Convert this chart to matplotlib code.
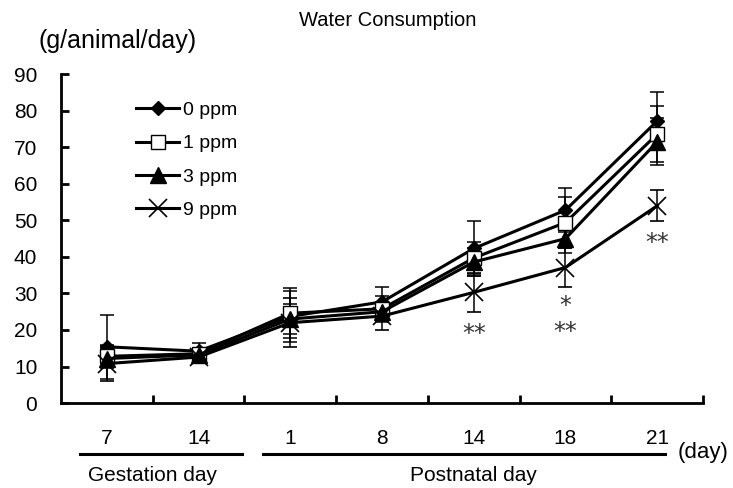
import matplotlib
matplotlib.use("Agg")
from matplotlib import pyplot as plt
from matplotlib.lines import Line2D
import numpy as np

plt.rcParams["font.family"] = ["Liberation Sans", "DejaVu Sans"]

days = ["7", "14", "1", "8", "14", "18", "21"]
groups = ["0 ppm", "1 ppm", "3 ppm", "9 ppm"]

mean_0 = [15.4, 14.2, 23.7, 27.7, 42.3, 52.8, 77.2]
mean_1 = [12.8, 13.5, 24.6, 25.8, 39.7, 49.4, 73.6]
mean_3 = [12.2, 13.2, 23.0, 25.0, 38.6, 45.0, 71.5]
mean_9 = [10.8, 12.6, 22.0, 23.8, 30.3, 37.1, 54.0]

sd_0 = [8.7, 2.3, 7.0, 4.1, 7.5, 6.1, 7.8]
sd_1 = [3.0, 1.5, 6.8, 3.5, 4.3, 7.0, 7.7]
sd_3 = [2.5, 1.5, 4.2, 2.5, 3.7, 3.9, 6.4]
sd_9 = [4.8, 1.7, 6.7, 3.8, 5.4, 5.4, 4.2]

# significance marks: (day index, y value, text)
sig_x = [4, 5, 5, 6]
sig_y = [18.9, 26.5, 19.5, 43.8]
sig_text = ["**", "*", "**", "**"]

styles = [
    dict(marker="D", markersize=7, markerfacecolor="black"),
    dict(marker="s", markersize=10, markerfacecolor="white"),
    dict(marker="^", markersize=11, markerfacecolor="black"),
    dict(marker="x", markersize=13, markeredgewidth=1.2),
]

fig = plt.figure(figsize=(7.33, 4.88), dpi=100)
ax = fig.add_axes([0.0832, 0.174, 0.876, 0.674])

x = np.arange(len(days))
handles = []
for m, s, lab, st in zip([mean_0, mean_1, mean_3, mean_9],
                         [sd_0, sd_1, sd_3, sd_9], groups, styles):
    ax.errorbar(x, m, yerr=s, color="black", lw=2.2, elinewidth=1.1,
                capsize=5, capthick=1.1, markeredgecolor="black", **st)
    handles.append(Line2D([], [], color="black", lw=2.2,
                          markeredgecolor="black", label=lab, **st))

for sx, sy, t in zip(sig_x, sig_y, sig_text):
    ax.text(sx, sy, t, ha="center", va="center", fontsize=17,
            color="#333333", family="DejaVu Sans")

ax.set_xlim(-0.5, 6.5)
ax.set_ylim(0, 90)
ax.set_yticks(range(0, 91, 10))
ax.set_xticks(x)
ax.set_xticklabels(days)
ax.set_xticks(np.arange(0.5, 7, 1), minor=True)
ax.tick_params(axis="x", which="major", length=0, pad=19, labelsize=15)
ax.tick_params(axis="x", which="minor", direction="in", length=6, width=2)
ax.tick_params(axis="y", direction="in", length=6, width=2, pad=17,
               labelsize=15)
for side in ["top", "right"]:
    ax.spines[side].set_visible(False)
for side in ["left", "bottom"]:
    ax.spines[side].set_linewidth(2)

trans = ax.get_xaxis_transform()
ax.plot([-0.29, 1.47], [-0.155, -0.155], color="black", lw=2.2,
        transform=trans, clip_on=False)
ax.plot([1.70, 6.09], [-0.155, -0.155], color="black", lw=2.2,
        transform=trans, clip_on=False)
ax.text(0.5, -0.22, "Gestation day", transform=trans, ha="center",
        va="center", fontsize=15)
ax.text(4.0, -0.22, "Postnatal day", transform=trans, ha="center",
        va="center", fontsize=15)
ax.text(6.22, -0.15, "(day)", transform=trans, ha="left", va="center",
        fontsize=16)

fig.text(0.529, 0.959, "Water Consumption", ha="center", va="center",
         fontsize=14.5)
fig.text(0.16, 0.915, "(g/animal/day)", ha="center", va="center",
         fontsize=18)

ax.legend(handles=handles, loc="upper left", bbox_to_anchor=(0.105, 0.94),
          frameon=False, fontsize=14, handlelength=2.2, handletextpad=0.2,
          labelspacing=0.8, borderaxespad=0)

fig.savefig("out.png", dpi=100)
